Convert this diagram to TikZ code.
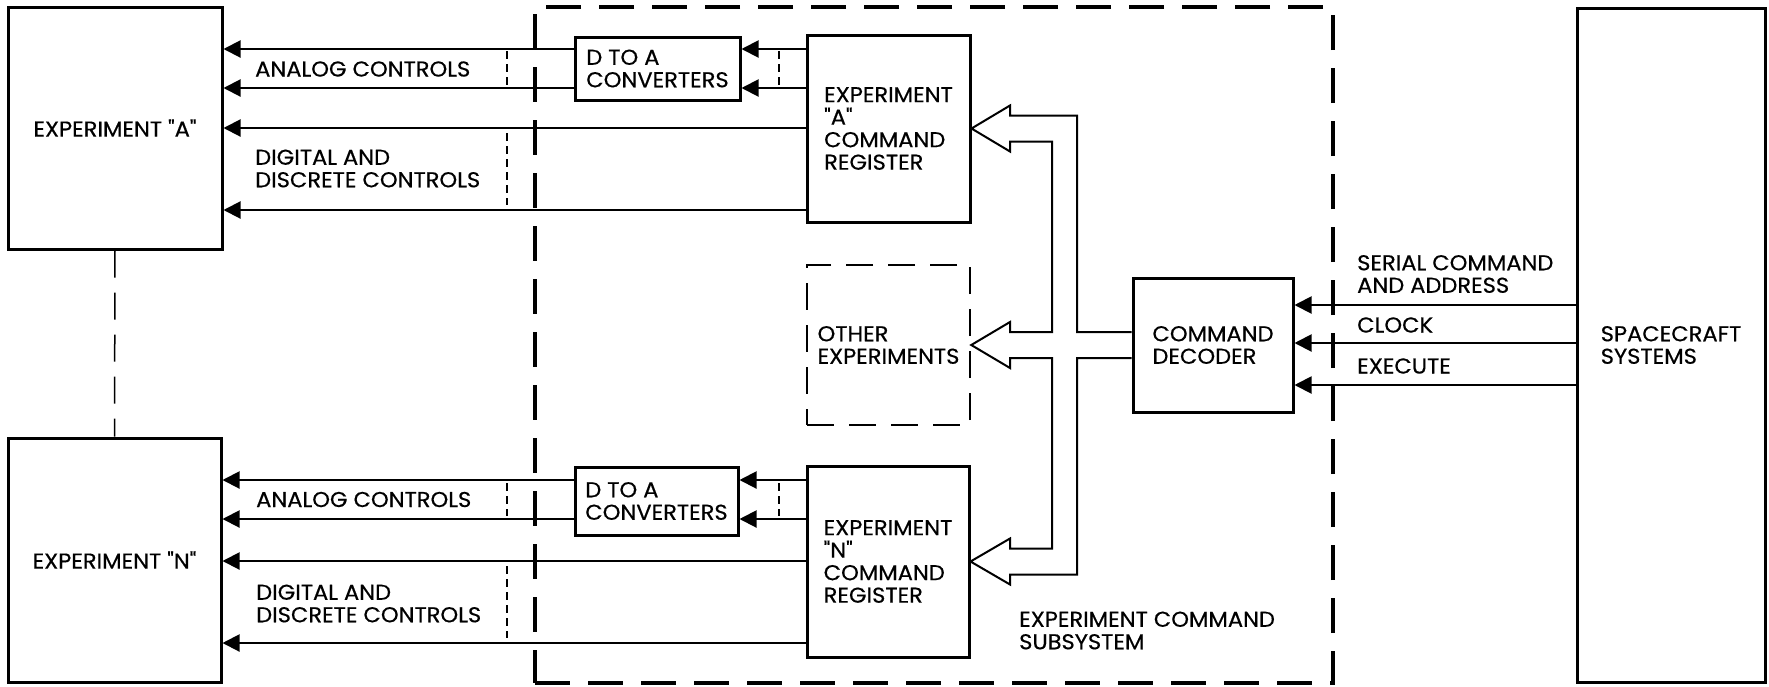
\documentclass[tikz,border=0pt]{standalone}
\usepackage{fontspec}
\setmainfont{Poppins}[Ligatures=TeXOff, FakeStretch=1.05, FakeBold=0.5]
\usetikzlibrary{arrows.meta}

\newcommand{\diagfont}{\fontsize{21.5}{22.5}\selectfont}

\tikzset{
  blk/.style={draw, line width=3pt, inner sep=0pt, align=left, font=\diagfont},
  otherbox/.style={blk, line width=2.5pt, dash pattern=on 27pt off 15pt},
  ecsbox/.style={draw, line width=4pt, dash pattern=on 35pt off 18pt},
  txt/.style={inner sep=0pt, align=left, anchor=west, font=\diagfont},
  sig/.style={line width=2pt, -{Triangle[length=17pt,width=17pt]}},
  bundle/.style={line width=1.5pt, dash pattern=on 8pt off 5pt},
  explink/.style={line width=1.5pt, dash pattern=on 27pt off 15pt},
  bus/.style={line width=2pt, line join=miter},
}

\begin{document}
\begin{tikzpicture}[x=1pt, y=-1pt]
    \useasboundingbox (0,0) rectangle (1769,686);

    % Coordinates
    \coordinate (a1) at (0,49);
    \coordinate (a2) at (0,88);
    \coordinate (a3) at (0,128);
    \coordinate (a4) at (0,210);
    \coordinate (n1) at (0,480);
    \coordinate (n2) at (0,519);
    \coordinate (n3) at (0,561);
    \coordinate (n4) at (0,643);
    \coordinate (s1) at (0,305);
    \coordinate (s2) at (0,343);
    \coordinate (s3) at (0,385);
    \coordinate (b1) at (0,332);
    \coordinate (b2) at (0,358);

    % Boxes
    \node[ecsbox, minimum width=798pt, minimum height=676pt] (ecs) at (934,345) {};
    \node[blk, minimum width=214pt, minimum height=242pt] (expA) at (115,128) {EXPERIMENT "A"};
    \node[blk, minimum width=213pt, minimum height=244pt] (expN) at (114.5,560) {EXPERIMENT "N"};
    \node[blk, minimum width=165pt, minimum height=63pt] (dacA) at (657.5,68.5) {D TO A\\CONVERTERS};
    \node[blk, minimum width=163pt, minimum height=68pt] (dacN) at (656.5,501) {D TO A\\CONVERTERS};
    \node[blk, minimum width=163pt, minimum height=187pt] (regA) at (888.5,128.5) {EXPERIMENT\\"A"\\COMMAND\\REGISTER};
    \node[blk, minimum width=162pt, minimum height=191pt] (regN) at (888,561.5) {EXPERIMENT\\"N"\\COMMAND\\REGISTER};
    \node[otherbox, minimum width=163pt, minimum height=160pt] (others) at (888.5,345) {OTHER\\EXPERIMENTS};
    \node[blk, minimum width=160pt, minimum height=134pt] (decoder) at (1213,345) {COMMAND\\DECODER};
    \node[blk, minimum width=188pt, minimum height=674pt] (craft) at (1671,345) {SPACECRAFT\\SYSTEMS};

    % Labels
    \node[txt] (anaA) at (255,69) {ANALOG CONTROLS};
    \node[txt] (digA) at (255,168.5) {DIGITAL AND\\DISCRETE CONTROLS};
    \node[txt] (anaN) at (256,499.5) {ANALOG CONTROLS};
    \node[txt] (digN) at (256,603.5) {DIGITAL AND\\DISCRETE CONTROLS};
    \node[txt] (serial) at (1357,274) {SERIAL COMMAND\\AND ADDRESS};
    \node[txt] (clock) at (1357,325) {CLOCK};
    \node[txt] (execute) at (1357,366) {EXECUTE};
    \node[txt] (ecslabel) at (1019,630.5) {EXPERIMENT COMMAND\\SUBSYSTEM};

    % Drawing
    \draw[explink] (expA.south) -- (expN.north);

    \draw[sig] (dacA.west |- a1) -- (expA.east |- a1);
    \draw[sig] (dacA.west |- a2) -- (expA.east |- a2);
    \draw[sig] (regA.west |- a3) -- (expA.east |- a3);
    \draw[sig] (regA.west |- a4) -- (expA.east |- a4);
    \draw[sig] (regA.west |- a1) -- (dacA.east |- a1);
    \draw[sig] (regA.west |- a2) -- (dacA.east |- a2);

    \draw[sig] (dacN.west |- n1) -- (expN.east |- n1);
    \draw[sig] (dacN.west |- n2) -- (expN.east |- n2);
    \draw[sig] (regN.west |- n3) -- (expN.east |- n3);
    \draw[sig] (regN.west |- n4) -- (expN.east |- n4);
    \draw[sig] (regN.west |- n1) -- (dacN.east |- n1);
    \draw[sig] (regN.west |- n2) -- (dacN.east |- n2);

    \draw[sig] (craft.west |- s1) -- (decoder.east |- s1);
    \draw[sig] (craft.west |- s2) -- (decoder.east |- s2);
    \draw[sig] (craft.west |- s3) -- (decoder.east |- s3);

    \draw[bundle] (507,51) -- (507,85);
    \draw[bundle] (507,133) -- (507,205);
    \draw[bundle] (779,51) -- (779,86);
    \draw[bundle] (507,483) -- (507,516);
    \draw[bundle] (507,566) -- (507,638);
    \draw[bundle] (779,483) -- (779,516);

    \draw[bus] (decoder.west |- b1) -- (1077,332) -- (1077,115.5) -- (1010,115.5)
      -- (1010,105.5) -- (regA.east) -- (1010,151.5) -- (1010,141.5) -- (1052,141.5)
      -- (1052,332) -- (1010,332) -- (1010,322) -- (others.east) -- (1010,368)
      -- (1010,358) -- (1052,358) -- (1052,548.5) -- (1010,548.5) -- (1010,538.5)
      -- (regN.east) -- (1010,584.5) -- (1010,574.5) -- (1077,574.5) -- (1077,358)
      -- (decoder.west |- b2);
\end{tikzpicture}
\end{document}
